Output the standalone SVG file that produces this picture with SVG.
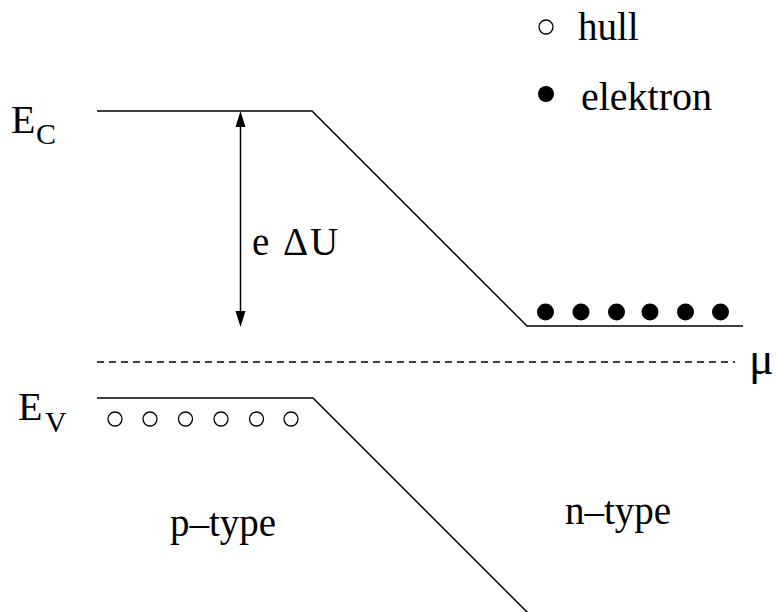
<svg xmlns="http://www.w3.org/2000/svg" width="776" height="612" viewBox="0 0 776 612">
<style>
.ln{stroke:#000;stroke-width:1.5;fill:none}
.t{font-family:"Liberation Serif","Times New Roman",serif;fill:#000}
.hole{fill:#fff;stroke:#000;stroke-width:1.3}
.el{fill:#000}
</style>
<rect width="776" height="612" fill="#fff"/>
<g id="connectors">
<polyline class="ln" points="97,111 312,111 527,326 743,326"/>
<polyline class="ln" points="97,398 313,398 530,615"/>
<line class="ln" x1="97" y1="362" x2="735" y2="362" stroke-dasharray="7,5"/>
<line class="ln" x1="240.5" y1="126" x2="240.5" y2="312"/>
<path d="M240.5,111 L245.5,127 L235.5,127 Z" fill="#000"/>
<path d="M240.5,327 L245.5,311 L235.5,311 Z" fill="#000"/>
</g>
<g id="holes">
<circle class="hole" cx="115" cy="419" r="7"/>
<circle class="hole" cx="150" cy="419" r="7"/>
<circle class="hole" cx="185.5" cy="419" r="7"/>
<circle class="hole" cx="221" cy="419" r="7"/>
<circle class="hole" cx="256.5" cy="419" r="7"/>
<circle class="hole" cx="291" cy="419" r="7"/>
</g>
<g id="electrons">
<circle class="el" cx="545.5" cy="312" r="8.5"/>
<circle class="el" cx="581" cy="312" r="8.5"/>
<circle class="el" cx="616.5" cy="312" r="8.5"/>
<circle class="el" cx="650" cy="312" r="8.5"/>
<circle class="el" cx="685.5" cy="312" r="8.5"/>
<circle class="el" cx="720.5" cy="312" r="8.5"/>
</g>
<g id="legend">
<circle class="hole" cx="546" cy="27" r="7"/>
<text class="t" x="578" y="40" font-size="39">hull</text>
<circle class="el" cx="546" cy="94" r="8"/>
<text class="t" x="581" y="110" font-size="40">elektron</text>
</g>
<g id="labels">
<text class="t" x="11" y="133" font-size="40">E</text>
<text class="t" x="36" y="144" font-size="30">C</text>
<text class="t" x="18" y="420" font-size="40">E</text>
<text class="t" x="45" y="432" font-size="30">V</text>
<text class="t" y="255" font-size="39"><tspan x="252">e</tspan><tspan x="283">Δ</tspan><tspan x="310">U</tspan></text>
<text class="t" x="749" y="374" font-size="46">μ</text>
<text class="t" x="170" y="536" font-size="39">p–type</text>
<text class="t" x="565" y="524" font-size="39">n–type</text>
</g>
</svg>
